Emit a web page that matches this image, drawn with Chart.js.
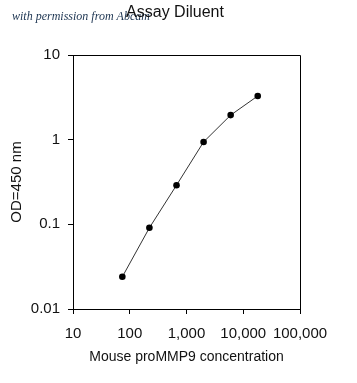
<!DOCTYPE html>
<html>
<head>
<meta charset="utf-8">
<script src="https://cdn.jsdelivr.net/npm/chart.js@4.4.0/dist/chart.umd.min.js"></script>
<style>
  html, body { margin: 0; padding: 0; background: #fff; }
  #wrap { width: 357px; height: 383px; position: relative; }
</style>
</head>
<body>
<div id="wrap"><canvas id="c" width="357" height="383"></canvas></div>
<script>
// ---- data ----
const chartTitle = 'Assay Diluent';
const watermark = 'with permission from Abcam';
const xAxisTitle = 'Mouse proMMP9 concentration';
const yAxisTitle = 'OD=450 nm';
const concentrations = [74, 222, 667, 2000, 6000, 18000];
const odValues = [0.024, 0.091, 0.29, 0.94, 1.95, 3.28];
const xTickValues = [10, 100, 1000, 10000, 100000];
const xTickLabels = ['10', '100', '1,000', '10,000', '100,000'];
const yTickValues = [0.01, 0.1, 1, 10];
const yTickLabels = ['0.01', '0.1', '1', '10'];

const points = concentrations.map((x, i) => ({ x: x, y: odValues[i] }));

const FONT = 'Arial, "Liberation Sans", sans-serif';

const decorPlugin = {
  id: 'decor',
  beforeDatasetsDraw(chart) {
    const { ctx, chartArea: a } = chart;
    ctx.save();
    ctx.strokeStyle = '#000';
    ctx.lineWidth = 1;
    ctx.beginPath();
    ctx.moveTo(Math.round(a.left) + 0.5, Math.round(a.top) + 0.5);
    ctx.lineTo(Math.round(a.right) + 0.5, Math.round(a.top) + 0.5);
    ctx.lineTo(Math.round(a.right) + 0.5, Math.round(a.bottom) + 0.5);
    ctx.stroke();
    ctx.restore();
  },
  afterDraw(chart) {
    const { ctx } = chart;
    ctx.save();
    // watermark
    ctx.fillStyle = '#1b3350';
    let size = 13;
    const wf = '"Liberation Serif", "Times New Roman", serif';
    ctx.font = 'italic ' + size + 'px ' + wf;
    const w = ctx.measureText(watermark).width;
    size = size * 138 / w;
    ctx.font = 'italic ' + size.toFixed(2) + 'px ' + wf;
    ctx.textAlign = 'left';
    ctx.textBaseline = 'alphabetic';
    ctx.fillText(watermark, 12, 20);
    // title
    ctx.fillStyle = '#111';
    ctx.font = '16px ' + FONT;
    ctx.textAlign = 'center';
    ctx.fillText(chartTitle, 175, 17);
    ctx.restore();
  }
};

new Chart(document.getElementById('c'), {
  type: 'scatter',
  data: {
    datasets: [{
      data: points,
      showLine: true,
      borderColor: '#333',
      borderWidth: 1,
      pointRadius: 3.3,
      pointHoverRadius: 3.3,
      pointBackgroundColor: '#000',
      pointBorderColor: '#000',
      pointBorderWidth: 0,
      tension: 0
    }]
  },
  options: {
    responsive: false,
    animation: false,
    devicePixelRatio: 1,
    layout: { padding: { top: 55, right: 57, left: 0, bottom: 0 } },
    plugins: {
      legend: { display: false },
      title: { display: false },
      tooltip: { enabled: false }
    },
    scales: {
      x: {
        type: 'logarithmic',
        position: 'bottom',
        min: 10,
        max: 100000,
        afterBuildTicks(scale) { scale.ticks = xTickValues.map(v => ({ value: v })); },
        afterFit(scale) { scale.height = 74; },
        ticks: {
          autoSkip: false,
          maxRotation: 0,
          padding: 11,
          color: '#111',
          font: { family: FONT, size: 15 },
          callback(v) { const i = xTickValues.indexOf(v); return i >= 0 ? xTickLabels[i] : ''; }
        },
        grid: { display: true, drawOnChartArea: false, drawTicks: true, tickLength: 5, color: '#000', lineWidth: 1 },
        border: { display: true, color: '#000', width: 1 },
        title: {
          display: true, text: xAxisTitle, color: '#111',
          font: { family: FONT, size: 14 },
          padding: { top: 0, bottom: 17.6 }
        }
      },
      y: {
        type: 'logarithmic',
        position: 'left',
        min: 0.01,
        max: 10,
        afterBuildTicks(scale) { scale.ticks = yTickValues.map(v => ({ value: v })); },
        afterFit(scale) { scale.width = 73; },
        ticks: {
          autoSkip: false,
          padding: 8,
          color: '#111',
          font: { family: FONT, size: 15 },
          callback(v) { const i = yTickValues.indexOf(v); return i >= 0 ? yTickLabels[i] : ''; }
        },
        grid: { display: true, drawOnChartArea: false, drawTicks: true, tickLength: 5, color: '#000', lineWidth: 1 },
        border: { display: true, color: '#000', width: 1 },
        title: {
          display: true, text: yAxisTitle, color: '#111',
          font: { family: FONT, size: 15 },
          padding: { top: 7.7, bottom: 0 }
        }
      }
    }
  },
  plugins: [decorPlugin]
});
</script>
</body>
</html>
